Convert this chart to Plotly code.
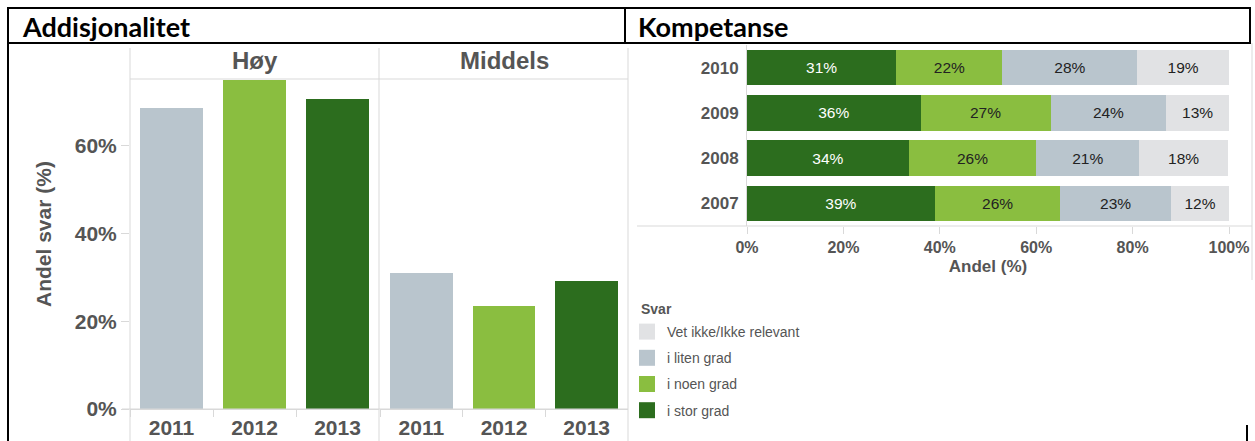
import plotly.graph_objects as go

W, H = 1255, 441

# ---- data ----
years = ["2011", "2012", "2013"]
hoy = [68.6, 75.0, 70.7]
middels = [30.9, 23.4, 29.1]
panel_names = ["Høy", "Middels"]
year_colors = ["#b9c5cd", "#8abe40", "#2c6d1e"]

k_years = ["2007", "2008", "2009", "2010"]
stor = [39, 33.6, 36, 31]
noen = [26, 26.4, 27, 22]
liten = [23, 21.4, 24, 28]
vetikke = [12, 18.4, 13, 19]
series_names = ["i stor grad", "i noen grad", "i liten grad", "Vet ikke/Ikke relevant"]
series_colors = ["#2c6d1e", "#8abe40", "#b9c5cd", "#e1e2e4"]
series_text = ["white", "#222222", "#222222", "#222222"]
legend_ranks = [4, 3, 2, 1]
left_yticks = [0, 20, 40, 60]
right_xticks = [0, 20, 40, 60, 80, 100]

def px(x):
    return x / W

def py(y):
    return 1 - y / H

FONT = "Liberation Sans"
GRAY = "#555555"
LINE = "#d9d9d9"

fig = go.Figure()

for i, vals in enumerate([hoy, middels]):
    fig.add_trace(go.Bar(
        x=years, y=vals, marker_color=year_colors, marker_line_width=0,
        width=0.76, showlegend=False, hoverinfo="skip",
        xaxis="x" if i == 0 else "x2", yaxis="y"))

for name, vals, col, tcol in zip(series_names, [stor, noen, liten, vetikke],
                                 series_colors, series_text):
    fig.add_trace(go.Bar(
        x=vals, y=k_years, orientation="h", name=name,
        marker_color=col, marker_line_width=0, width=0.78,
        texttemplate="%{x:.0f}%", textposition="inside",
        insidetextanchor="middle", textangle=0,
        textfont=dict(family=FONT, size=15.5, color=tcol),
        legendgroup=name, showlegend=False, hoverinfo="skip",
        xaxis="x3", yaxis="y3"))

# legend entries (square swatches) for the stacked series
for name, col, rk in zip(series_names, series_colors, legend_ranks):
    fig.add_trace(go.Scatter(
        x=[None], y=[None], mode="markers", name=name,
        marker=dict(symbol="square", size=18, color=col, line_width=0),
        legendgroup=name, legendrank=rk, hoverinfo="skip",
        xaxis="x3", yaxis="y3"))

tickfont_big = dict(family=FONT, size=21, color=GRAY, weight="bold")
header_font = dict(family=FONT, size=24, color=GRAY, weight="bold")
tickfont_x3 = dict(family=FONT, size=16, color=GRAY, weight="bold")
tickfont_y3 = dict(family=FONT, size=17, color=GRAY, weight="bold")

ydom = [py(409), py(79)]
fig.update_layout(
    width=W, height=H, margin=dict(l=0, r=0, t=0, b=0, autoexpand=False),
    paper_bgcolor="white", plot_bgcolor="white",
    barmode="stack", bargap=0.2,
    xaxis=dict(domain=[px(130), px(379)], type="category", automargin=False,
               tickfont=tickfont_big, showline=True, linecolor=LINE,
               ticks="outside", tickson="boundaries", ticklen=7, tickcolor=LINE,
               showgrid=False, zeroline=False),
    xaxis2=dict(domain=[px(380), px(628)], type="category", anchor="y",
                automargin=False,
                tickfont=tickfont_big, showline=True, linecolor=LINE,
                ticks="outside", tickson="boundaries", ticklen=7, tickcolor=LINE,
                showgrid=False, zeroline=False),
    yaxis=dict(domain=ydom, range=[0, 75.2], tickvals=left_yticks,
               ticktext=[f"{v}%" for v in left_yticks], automargin=False,
               tickfont=tickfont_big, showgrid=False,
               zeroline=False, showline=False, ticks="outside", ticklen=8,
               tickcolor=LINE),
    xaxis3=dict(domain=[px(747), px(1229)], range=[0, 100], anchor="y3",
                tickvals=right_xticks, ticktext=[f"{v}%" for v in right_xticks],
                tickfont=tickfont_x3, automargin=False,
                showgrid=False, zeroline=False, showline=False,
                ticks="outside", ticklen=7, tickcolor=LINE,
                title=dict(text="Andel (%)", font=tickfont_y3, standoff=4)),
    yaxis3=dict(domain=[py(226), py(45)], anchor="x3", type="category",
                categoryorder="array", categoryarray=k_years, automargin=False,
                range=[-0.5, 3.5], tickfont=tickfont_y3,
                showline=True, linecolor=LINE, showgrid=False, ticks="",
                ticklabelstandoff=4),
    legend=dict(x=px(627), y=py(316), xanchor="left", yanchor="top",
                traceorder="grouped", tracegroupgap=5, itemsizing="trace",
                font=dict(family=FONT, size=14, color=GRAY),
                bgcolor="rgba(0,0,0,0)"),
    font=dict(family=FONT, color=GRAY),
)

shapes = []
def line(x0, y0, x1, y1, color=LINE, width=1):
    shapes.append(dict(type="line", xref="paper", yref="paper",
                       x0=px(x0), y0=py(y0), x1=px(x1), y1=py(y1),
                       line=dict(color=color, width=width)))

# left panel structure lines
for xv in [130, 379, 628]:
    line(xv, 48, xv, 441)
line(130, 79, 628, 79)
line(122, 409, 628, 409)
# right panel lines
line(637, 226, 1252, 226)
line(1252, 43, 1252, 280)
# title boxes
shapes.append(dict(type="rect", xref="paper", yref="paper",
                   x0=px(8), y0=py(43), x1=px(625), y1=py(8),
                   line=dict(color="black", width=2)))
shapes.append(dict(type="rect", xref="paper", yref="paper",
                   x0=px(625), y0=py(43), x1=px(1250), y1=py(8),
                   line=dict(color="black", width=2)))
line(8, 43, 8, 441, color="black", width=2)
line(1247, 425, 1247, 441, color="black", width=2)
fig.update_layout(shapes=shapes)

ann = []
title_font = dict(family="Lato", size=27, color="black", weight="bold")
ann.append(dict(text="Addisjonalitet", x=px(20), y=py(26), xref="paper",
                yref="paper", xanchor="left", yanchor="middle",
                showarrow=False, font=title_font))
ann.append(dict(text="Kompetanse", x=px(636), y=py(26), xref="paper",
                yref="paper", xanchor="left", yanchor="middle",
                showarrow=False, font=title_font))
for name, cx in zip(panel_names, [(130 + 379) / 2, (380 + 628) / 2]):
    ann.append(dict(text=name, x=px(cx), y=py(61), xref="paper", yref="paper",
                    xanchor="center", yanchor="middle", showarrow=False,
                    font=header_font))
ann.append(dict(text="Andel svar (%)", x=px(43), y=py(234), xref="paper",
                yref="paper", xanchor="center", yanchor="middle",
                showarrow=False, textangle=-90, font=tickfont_big))
ann.append(dict(text="Svar", x=px(639), y=py(309), xref="paper",
                yref="paper", xanchor="left", yanchor="middle",
                showarrow=False,
                font=dict(family=FONT, size=14, color=GRAY, weight="bold")))
fig.update_layout(annotations=ann)

fig.write_html(
    "out.html",
    config={"displayModeBar": False},
    post_script="document.body.style.margin='0';document.body.style.overflow='hidden';",
)
